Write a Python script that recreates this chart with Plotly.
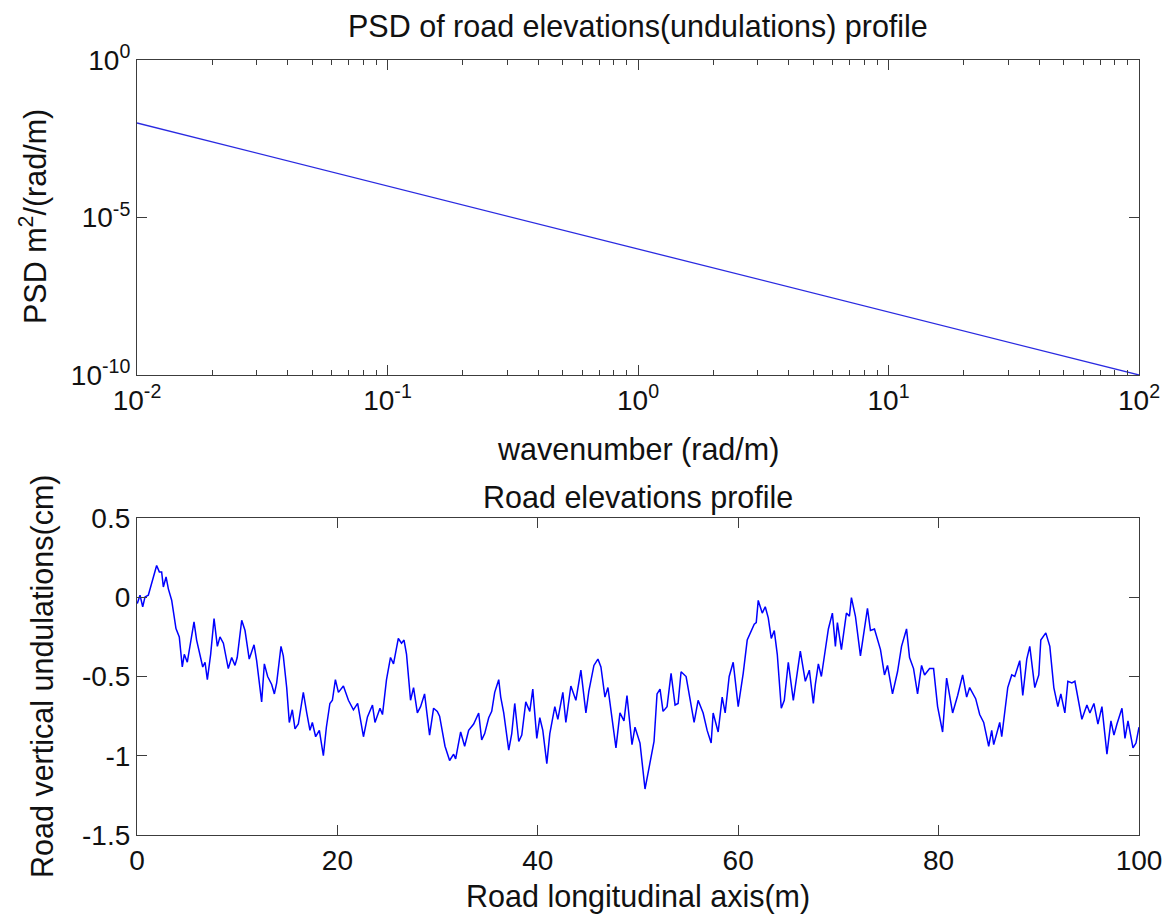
import plotly.graph_objects as go

# --- PSD of the road profile (log-log) ---
wavenumber = [0.01, 0.1, 1.0, 10.0, 100.0]
psd = [1e-2, 1e-4, 1e-6, 1e-8, 1e-10]

# --- Road elevation profile ---
distance_m = [
    0.03, 0.3, 0.57, 0.8, 1.13, 1.46, 1.96, 2.23, 2.46, 2.63, 2.9, 3.13, 3.46, 3.89, 4.22,
    4.52, 4.72, 5.02, 5.29, 5.69, 5.95, 6.29, 6.56, 6.79, 7.02, 7.35, 7.69, 8.02, 8.28, 8.62,
    9.11, 9.45, 9.78, 10.0, 10.45, 10.78, 11.2, 11.68, 11.94, 12.44, 12.71, 13.04, 13.44, 13.71,
    13.94, 14.37, 14.6, 14.94, 15.2, 15.5, 15.77, 16.1, 16.6, 16.94, 17.26, 17.5, 17.83, 18.2,
    18.6, 18.9, 19.25, 19.5, 19.8, 20.1, 20.6, 21.1, 21.6, 22.02, 22.6, 23.0, 23.5, 23.75,
    24.25, 24.5, 24.9, 25.3, 25.6, 26.08, 26.4, 26.65, 26.9, 27.3, 27.6, 27.98, 28.3, 28.7,
    29.2, 29.6, 29.97, 30.2, 30.74, 31.2, 31.6, 31.8, 32.3, 32.7, 33.1, 33.6, 34.1, 34.4,
    34.7, 35.1, 35.4, 35.7, 36.1, 36.3, 36.6, 37.1, 37.4, 37.7, 38.1, 38.4, 38.8, 39.2, 39.5,
    39.9, 40.2, 40.5, 40.9, 41.2, 41.7, 42.0, 42.5, 42.8, 43.3, 43.8, 44.3, 44.8, 45.1, 45.6,
    46.0, 46.3, 46.7, 47.0, 47.4, 47.8, 48.2, 48.6, 48.9, 49.4, 49.7, 50.2, 50.7, 51.2, 51.6,
    51.9, 52.2, 52.5, 52.9, 53.3, 53.7, 54.0, 54.3, 54.8, 55.1, 55.6, 56.0, 56.5, 56.9, 57.3,
    57.5, 58.0, 58.4, 58.7, 59.1, 59.5, 60.0, 60.5, 60.9, 61.2, 61.6, 61.8, 62.0, 62.4, 62.7,
    63.0, 63.3, 63.6, 63.9, 64.3, 64.6, 65.0, 65.5, 66.2, 66.7, 67.1, 67.5, 67.7, 68.0, 68.3,
    68.7, 69.0, 69.4, 69.7, 69.9, 70.3, 70.8, 71.1, 71.3, 71.7, 72.2, 72.5, 72.9, 73.2, 73.6,
    74.2, 74.6, 74.9, 75.4, 75.9, 76.3, 76.8, 77.1, 77.5, 77.9, 78.3, 78.6, 79.1, 79.5, 79.9,
    80.4, 80.8, 81.4, 81.9, 82.4, 82.8, 83.1, 83.7, 84.1, 84.5, 85.0, 85.3, 85.5, 86.1, 86.3,
    86.9, 87.3, 87.6, 88.1, 88.4, 88.8, 89.1, 89.6, 90.0, 90.2, 90.7, 91.1, 91.5, 91.9, 92.2,
    92.6, 92.9, 93.3, 93.6, 93.9, 94.3, 94.8, 95.1, 95.5, 95.9, 96.3, 96.8, 97.2, 97.5, 97.8,
    98.3, 98.6, 98.9, 99.4, 99.7, 100.0,
]
elevation_cm = [
    -0.04, 0.013, -0.06, 0.002, 0.013, 0.086, 0.20, 0.16, 0.16, 0.065, 0.128, 0.053, -0.019, -0.198, -0.25,
    -0.44, -0.36, -0.41, -0.31, -0.156, -0.27, -0.36, -0.44, -0.41, -0.52, -0.36, -0.134, -0.31, -0.25, -0.29,
    -0.45, -0.38, -0.43, -0.38, -0.145, -0.21, -0.39, -0.30, -0.40, -0.66, -0.42, -0.50, -0.55, -0.61,
    -0.54, -0.31, -0.37, -0.57, -0.79, -0.71, -0.83, -0.80, -0.60, -0.73, -0.84, -0.79, -0.88, -0.84,
    -1.0, -0.82, -0.67, -0.65, -0.52, -0.60, -0.56, -0.65, -0.71, -0.67, -0.88, -0.755, -0.68, -0.79,
    -0.70, -0.74, -0.52, -0.38, -0.42, -0.26, -0.29, -0.27, -0.36, -0.65, -0.57, -0.73, -0.69, -0.61,
    -0.87, -0.70, -0.72, -0.75, -0.94, -1.03, -0.99, -1.02, -0.85, -0.94, -0.84, -0.80, -0.73, -0.90,
    -0.86, -0.76, -0.72, -0.60, -0.52, -0.63, -0.73, -0.965, -0.86, -0.67, -0.91, -0.87, -0.66, -0.72, -0.58,
    -0.89, -0.76, -0.84, -1.05, -0.86, -0.69, -0.77, -0.60, -0.79, -0.56, -0.65, -0.46, -0.73, -0.59, -0.43,
    -0.39, -0.44, -0.63, -0.57, -0.76, -0.95, -0.73, -0.78, -0.62, -0.93, -0.82, -0.92, -1.21, -1.03, -0.91,
    -0.61, -0.58, -0.72, -0.69, -0.48, -0.68, -0.67, -0.47, -0.50, -0.62, -0.79, -0.65, -0.73, -0.84, -0.92,
    -0.73, -0.85, -0.63, -0.73, -0.50, -0.41, -0.69, -0.48, -0.27, -0.23, -0.17, -0.16, -0.02, -0.10, -0.06,
    -0.13, -0.26, -0.21, -0.36, -0.70, -0.65, -0.41, -0.65, -0.34, -0.53, -0.46, -0.67, -0.55, -0.42, -0.50,
    -0.33, -0.20, -0.10, -0.31, -0.16, -0.33, -0.10, -0.12, -0.002, -0.12, -0.37, -0.24, -0.07, -0.21, -0.20,
    -0.33, -0.49, -0.43, -0.61, -0.47, -0.31, -0.20, -0.38, -0.45, -0.61, -0.43, -0.49, -0.45, -0.45, -0.69,
    -0.85, -0.51, -0.73, -0.62, -0.49, -0.63, -0.57, -0.64, -0.74, -0.79, -0.94, -0.84, -0.93, -0.79, -0.88,
    -0.57, -0.49, -0.50, -0.40, -0.62, -0.39, -0.31, -0.57, -0.49, -0.27, -0.225, -0.31, -0.57, -0.69, -0.61,
    -0.73, -0.53, -0.54, -0.53, -0.63, -0.77, -0.68, -0.73, -0.67, -0.80, -0.69, -0.99, -0.78, -0.87, -0.80,
    -0.70, -0.89, -0.78, -0.95, -0.92, -0.82,
]

psd_ticks = [1e-10, 1e-5, 1e0]
psd_ticktext = ["10<sup>-10</sup>", "10<sup>-5</sup>", "10<sup>0</sup>"]
wn_ticks = [0.01, 0.1, 1, 10, 100]
wn_ticktext = ["10<sup>-2</sup>", "10<sup>-1</sup>", "10<sup>0</sup>", "10<sup>1</sup>", "10<sup>2</sup>"]
wn_minor = [m * 10.0 ** e for e in range(-2, 2) for m in range(2, 10)]

FONT = "Liberation Sans, Arial, sans-serif"
AXIS_COLOR = "#3c3c3c"
W, H = 1170, 916

fig = go.Figure()
fig.add_trace(go.Scatter(x=wavenumber, y=psd, mode="lines",
                         line=dict(color="#2a2ae0", width=1.3),
                         xaxis="x", yaxis="y", showlegend=False))
fig.add_trace(go.Scatter(x=distance_m, y=elevation_cm, mode="lines",
                         line=dict(color="#0000ff", width=1.5),
                         xaxis="x2", yaxis="y2", showlegend=False))

x_dom = [137 / W, 1139 / W]
common = dict(showline=True, linecolor=AXIS_COLOR, linewidth=1.2, mirror="ticks",
              ticks="inside", ticklen=10, tickwidth=1.2, tickcolor=AXIS_COLOR,
              showgrid=False, zeroline=False, automargin=False,
              tickfont=dict(family=FONT, size=28, color="#111111"))

fig.update_layout(
    width=W, height=H,
    margin=dict(l=0, r=0, t=0, b=0),
    paper_bgcolor="white", plot_bgcolor="white",
    xaxis=dict(domain=x_dom, anchor="y", type="log", range=[-2, 2],
               tickvals=wn_ticks, ticktext=wn_ticktext,
               minor=dict(tickvals=wn_minor, ticks="inside", ticklen=5,
                          tickwidth=1.2, tickcolor=AXIS_COLOR, showgrid=False),
               **common),
    yaxis=dict(domain=[1 - 375 / H, 1 - 60 / H], anchor="x", type="log", range=[-10, 0],
               tickvals=psd_ticks, ticktext=psd_ticktext, **common),
    xaxis2=dict(domain=x_dom, anchor="y2", range=[0, 100],
                tickvals=[0, 20, 40, 60, 80, 100], **common),
    yaxis2=dict(domain=[1 - 835 / H, 1 - 518 / H], anchor="x2", range=[-1.5, 0.5],
                tickvals=[-1.5, -1, -0.5, 0, 0.5], ticktext=["-1.5", "-1", "-0.5", "0", "0.5"],
                **common),
)

label_font = dict(family=FONT, size=30.5, color="#111111")
cx = (137 + 1139) / 2 / W


def add_label(text, x, y, angle=0):
    fig.add_annotation(text=text, x=x, y=y, xref="paper", yref="paper",
                       xanchor="center", yanchor="middle", showarrow=False,
                       textangle=angle, font=label_font)


add_label("PSD of road elevations(undulations) profile", cx, 1 - 27 / H)
add_label("wavenumber (rad/m)", cx, 1 - 449 / H)
add_label("PSD m<sup>2</sup>/(rad/m)", 34 / W, 1 - 217 / H, -90)
add_label("Road elevations profile", cx, 1 - 497 / H)
add_label("Road longitudinal axis(m)", cx, 1 - 896 / H)
add_label("Road vertical undulations(cm)", 42 / W, 1 - 677 / H, -90)

fig.write_html("out.html")
